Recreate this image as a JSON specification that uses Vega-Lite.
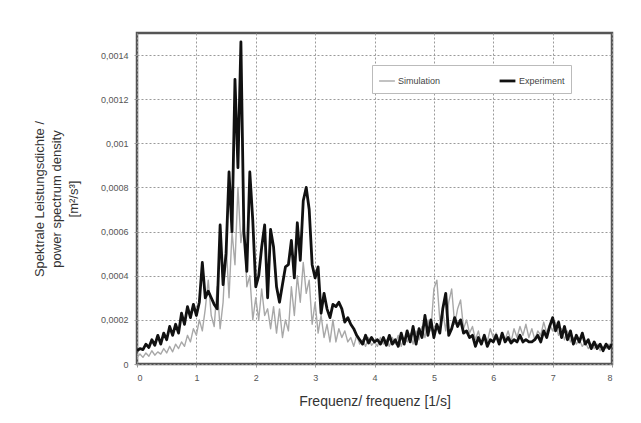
{
  "$schema": "https://vega.github.io/schema/vega-lite/v6.json",
  "width": 475,
  "height": 331,
  "autosize": "none",
  "padding": {"left": 137, "top": 33, "right": 29, "bottom": 59},
  "background": "white",
  "config": {
    "font": "Liberation Sans",
    "view": {"stroke": "#555", "strokeWidth": 2.5},
    "axis": {
      "gridDash": [2, 2], "gridColor": "#9a9a9a", "gridWidth": 1, "gridOpacity": 1,
      "domain": false, "tickColor": "#999", "tickSize": 3,
      "labelFont": "Liberation Sans", "labelFontSize": 9, "labelColor": "#555",
      "titleFont": "Liberation Sans", "titleFontWeight": "normal", "titleColor": "#333"
    }
  },
  "data": {"values": [
    {"f":0.00,"Simulation":0.00003,"Experiment":0.00006},
    {"f":0.05,"Simulation":0.000045,"Experiment":0.00007},
    {"f":0.10,"Simulation":0.00003,"Experiment":0.000065},
    {"f":0.15,"Simulation":0.00005,"Experiment":0.00009},
    {"f":0.20,"Simulation":0.000035,"Experiment":0.000075},
    {"f":0.25,"Simulation":0.00006,"Experiment":0.00011},
    {"f":0.30,"Simulation":0.00004,"Experiment":0.000085},
    {"f":0.35,"Simulation":0.000055,"Experiment":0.00013},
    {"f":0.40,"Simulation":0.000045,"Experiment":0.00009},
    {"f":0.45,"Simulation":0.00007,"Experiment":0.00014},
    {"f":0.50,"Simulation":0.00005,"Experiment":0.00011},
    {"f":0.55,"Simulation":0.00008,"Experiment":0.00017},
    {"f":0.60,"Simulation":0.000055,"Experiment":0.00013},
    {"f":0.65,"Simulation":0.00009,"Experiment":0.00018},
    {"f":0.70,"Simulation":0.00007,"Experiment":0.00014},
    {"f":0.75,"Simulation":0.0001,"Experiment":0.00023},
    {"f":0.80,"Simulation":0.00008,"Experiment":0.00018},
    {"f":0.85,"Simulation":0.00013,"Experiment":0.00026},
    {"f":0.90,"Simulation":0.0001,"Experiment":0.00021},
    {"f":0.95,"Simulation":0.00016,"Experiment":0.00027},
    {"f":1.00,"Simulation":0.00013,"Experiment":0.00022},
    {"f":1.05,"Simulation":0.0002,"Experiment":0.00028},
    {"f":1.10,"Simulation":0.00015,"Experiment":0.00046},
    {"f":1.15,"Simulation":0.00025,"Experiment":0.0003},
    {"f":1.20,"Simulation":0.00038,"Experiment":0.00033},
    {"f":1.25,"Simulation":0.00022,"Experiment":0.0003},
    {"f":1.30,"Simulation":0.00017,"Experiment":0.00027},
    {"f":1.35,"Simulation":0.00035,"Experiment":0.00025},
    {"f":1.40,"Simulation":0.00016,"Experiment":0.00063},
    {"f":1.45,"Simulation":0.00028,"Experiment":0.00036},
    {"f":1.50,"Simulation":0.00055,"Experiment":0.0005},
    {"f":1.55,"Simulation":0.0003,"Experiment":0.00087},
    {"f":1.60,"Simulation":0.0006,"Experiment":0.0006},
    {"f":1.65,"Simulation":0.00045,"Experiment":0.00129},
    {"f":1.70,"Simulation":0.0008,"Experiment":0.00089},
    {"f":1.75,"Simulation":0.00055,"Experiment":0.00146},
    {"f":1.80,"Simulation":0.00065,"Experiment":0.0006},
    {"f":1.85,"Simulation":0.00035,"Experiment":0.00042},
    {"f":1.90,"Simulation":0.0004,"Experiment":0.00087},
    {"f":1.95,"Simulation":0.0002,"Experiment":0.00065},
    {"f":2.00,"Simulation":0.0003,"Experiment":0.00035},
    {"f":2.05,"Simulation":0.0002,"Experiment":0.0004},
    {"f":2.10,"Simulation":0.00034,"Experiment":0.00053},
    {"f":2.15,"Simulation":0.00022,"Experiment":0.00063},
    {"f":2.20,"Simulation":0.00025,"Experiment":0.0003},
    {"f":2.25,"Simulation":0.00016,"Experiment":0.00061},
    {"f":2.30,"Simulation":0.00026,"Experiment":0.00053},
    {"f":2.35,"Simulation":0.00014,"Experiment":0.00035},
    {"f":2.40,"Simulation":0.00025,"Experiment":0.00028},
    {"f":2.45,"Simulation":0.00012,"Experiment":0.00036},
    {"f":2.50,"Simulation":0.0002,"Experiment":0.00044},
    {"f":2.55,"Simulation":0.00015,"Experiment":0.00045},
    {"f":2.60,"Simulation":0.00035,"Experiment":0.00056},
    {"f":2.65,"Simulation":0.00022,"Experiment":0.00039},
    {"f":2.70,"Simulation":0.0004,"Experiment":0.00064},
    {"f":2.75,"Simulation":0.00028,"Experiment":0.00047},
    {"f":2.80,"Simulation":0.00046,"Experiment":0.00074},
    {"f":2.85,"Simulation":0.00032,"Experiment":0.0008},
    {"f":2.90,"Simulation":0.00038,"Experiment":0.0007},
    {"f":2.95,"Simulation":0.00018,"Experiment":0.00045},
    {"f":3.00,"Simulation":0.00028,"Experiment":0.00039},
    {"f":3.05,"Simulation":0.00014,"Experiment":0.00044},
    {"f":3.10,"Simulation":0.00022,"Experiment":0.00023},
    {"f":3.15,"Simulation":0.00012,"Experiment":0.00032},
    {"f":3.20,"Simulation":0.00018,"Experiment":0.00025},
    {"f":3.25,"Simulation":0.0001,"Experiment":0.00021},
    {"f":3.30,"Simulation":0.0002,"Experiment":0.00027},
    {"f":3.35,"Simulation":0.0001,"Experiment":0.00026},
    {"f":3.40,"Simulation":0.00016,"Experiment":0.00028},
    {"f":3.45,"Simulation":0.00012,"Experiment":0.00025},
    {"f":3.50,"Simulation":0.00015,"Experiment":0.00019},
    {"f":3.55,"Simulation":0.0001,"Experiment":0.00021},
    {"f":3.60,"Simulation":0.00012,"Experiment":0.00018},
    {"f":3.65,"Simulation":0.00008,"Experiment":0.00016},
    {"f":3.70,"Simulation":0.00013,"Experiment":0.00013},
    {"f":3.75,"Simulation":0.00009,"Experiment":0.00011},
    {"f":3.80,"Simulation":0.00011,"Experiment":0.00009},
    {"f":3.85,"Simulation":0.00008,"Experiment":0.00013},
    {"f":3.90,"Simulation":0.00012,"Experiment":0.000095},
    {"f":3.95,"Simulation":0.000085,"Experiment":0.00012},
    {"f":4.00,"Simulation":0.0001,"Experiment":0.0001},
    {"f":4.05,"Simulation":0.00008,"Experiment":0.00011},
    {"f":4.10,"Simulation":0.00012,"Experiment":0.00009},
    {"f":4.15,"Simulation":0.00009,"Experiment":0.00012},
    {"f":4.20,"Simulation":0.00011,"Experiment":0.000085},
    {"f":4.25,"Simulation":0.00008,"Experiment":0.00013},
    {"f":4.30,"Simulation":0.00012,"Experiment":0.00009},
    {"f":4.35,"Simulation":0.00009,"Experiment":0.00011},
    {"f":4.40,"Simulation":0.00013,"Experiment":0.00008},
    {"f":4.45,"Simulation":0.00008,"Experiment":0.00014},
    {"f":4.50,"Simulation":0.00012,"Experiment":0.00009},
    {"f":4.55,"Simulation":0.0001,"Experiment":0.00015},
    {"f":4.60,"Simulation":0.00014,"Experiment":0.0001},
    {"f":4.65,"Simulation":0.00009,"Experiment":0.00017},
    {"f":4.70,"Simulation":0.00015,"Experiment":0.00009},
    {"f":4.75,"Simulation":0.00011,"Experiment":0.00016},
    {"f":4.80,"Simulation":0.00017,"Experiment":0.00012},
    {"f":4.85,"Simulation":0.00012,"Experiment":0.00022},
    {"f":4.90,"Simulation":0.0002,"Experiment":0.00013},
    {"f":4.95,"Simulation":0.00015,"Experiment":0.0002},
    {"f":5.00,"Simulation":0.00034,"Experiment":0.00012},
    {"f":5.05,"Simulation":0.00038,"Experiment":0.00018},
    {"f":5.10,"Simulation":0.0002,"Experiment":0.00014},
    {"f":5.15,"Simulation":0.00024,"Experiment":0.00025},
    {"f":5.20,"Simulation":0.00015,"Experiment":0.00032},
    {"f":5.25,"Simulation":0.00028,"Experiment":0.00013},
    {"f":5.30,"Simulation":0.00034,"Experiment":0.00016},
    {"f":5.35,"Simulation":0.00018,"Experiment":0.00021},
    {"f":5.40,"Simulation":0.00025,"Experiment":0.00017},
    {"f":5.45,"Simulation":0.00029,"Experiment":0.0002},
    {"f":5.50,"Simulation":0.00016,"Experiment":0.00014},
    {"f":5.55,"Simulation":0.0002,"Experiment":0.00015},
    {"f":5.60,"Simulation":0.00014,"Experiment":0.00012},
    {"f":5.65,"Simulation":0.00017,"Experiment":0.00013},
    {"f":5.70,"Simulation":0.00011,"Experiment":0.00008},
    {"f":5.75,"Simulation":0.00015,"Experiment":0.00012},
    {"f":5.80,"Simulation":0.00009,"Experiment":0.00009},
    {"f":5.85,"Simulation":0.00013,"Experiment":0.00013},
    {"f":5.90,"Simulation":0.0001,"Experiment":0.00008},
    {"f":5.95,"Simulation":0.00016,"Experiment":0.00011},
    {"f":6.00,"Simulation":0.00012,"Experiment":0.0001},
    {"f":6.05,"Simulation":0.00014,"Experiment":0.00013},
    {"f":6.10,"Simulation":0.0001,"Experiment":0.00009},
    {"f":6.15,"Simulation":0.00013,"Experiment":0.00014},
    {"f":6.20,"Simulation":0.00011,"Experiment":0.0001},
    {"f":6.25,"Simulation":0.00015,"Experiment":0.00012},
    {"f":6.30,"Simulation":0.0001,"Experiment":0.000095},
    {"f":6.35,"Simulation":0.00016,"Experiment":0.00011},
    {"f":6.40,"Simulation":0.00012,"Experiment":0.0001},
    {"f":6.45,"Simulation":0.00017,"Experiment":0.00013},
    {"f":6.50,"Simulation":0.00013,"Experiment":0.0001},
    {"f":6.55,"Simulation":0.00018,"Experiment":0.00011},
    {"f":6.60,"Simulation":0.00012,"Experiment":0.0001},
    {"f":6.65,"Simulation":0.00016,"Experiment":0.0001},
    {"f":6.70,"Simulation":0.00011,"Experiment":0.00011},
    {"f":6.75,"Simulation":0.00015,"Experiment":0.00013},
    {"f":6.80,"Simulation":0.00013,"Experiment":0.0001},
    {"f":6.85,"Simulation":0.00019,"Experiment":0.00015},
    {"f":6.90,"Simulation":0.00014,"Experiment":0.00012},
    {"f":6.95,"Simulation":0.00018,"Experiment":0.00017},
    {"f":7.00,"Simulation":0.00015,"Experiment":0.00021},
    {"f":7.05,"Simulation":0.00019,"Experiment":0.00015},
    {"f":7.10,"Simulation":0.00013,"Experiment":0.00019},
    {"f":7.15,"Simulation":0.00016,"Experiment":0.00012},
    {"f":7.20,"Simulation":0.00011,"Experiment":0.00017},
    {"f":7.25,"Simulation":0.00015,"Experiment":0.00011},
    {"f":7.30,"Simulation":0.0001,"Experiment":0.00015},
    {"f":7.35,"Simulation":0.00012,"Experiment":0.00009},
    {"f":7.40,"Simulation":0.00009,"Experiment":0.00013},
    {"f":7.45,"Simulation":0.00011,"Experiment":0.0001},
    {"f":7.50,"Simulation":0.00008,"Experiment":0.00014},
    {"f":7.55,"Simulation":0.0001,"Experiment":0.00009},
    {"f":7.60,"Simulation":0.00007,"Experiment":0.00011},
    {"f":7.65,"Simulation":0.00009,"Experiment":0.00007},
    {"f":7.70,"Simulation":0.00007,"Experiment":0.0001},
    {"f":7.75,"Simulation":0.00009,"Experiment":0.00007},
    {"f":7.80,"Simulation":0.00006,"Experiment":0.00009},
    {"f":7.85,"Simulation":0.00008,"Experiment":0.00006},
    {"f":7.90,"Simulation":0.00007,"Experiment":0.00009},
    {"f":7.95,"Simulation":0.00009,"Experiment":0.00007},
    {"f":8.00,"Simulation":0.00008,"Experiment":0.00009}
  ]},
  "transform": [{"fold": ["Simulation", "Experiment"], "as": ["series", "value"]}],
  "mark": {"type": "line", "strokeJoin": "round", "clip": true},
  "encoding": {
    "x": {
      "field": "f", "type": "quantitative",
      "scale": {"domain": [0, 8], "nice": false, "zero": false},
      "axis": {"values": [0,1,2,3,4,5,6,7,8], "title": "Frequenz/ frequenz [1/s]",
               "titleFontSize": 14, "titlePadding": 12, "labelPadding": 6}
    },
    "y": {
      "field": "value", "type": "quantitative",
      "scale": {"domain": [0, 0.0015], "nice": false},
      "axis": {
        "values": [0, 0.0002, 0.0004, 0.0006, 0.0008, 0.001, 0.0012, 0.0014],
        "labelExpr": "replace(toString(datum.value), '.', ',')",
        "labelPadding": 6,
        "title": ["Spektrale Leistungsdichte /", "power spectrum density", "[m²/s³]"],
        "titleFontSize": 13, "titleLineHeight": 17, "titlePadding": 20
      }
    },
    "color": {
      "field": "series", "type": "nominal",
      "scale": {"domain": ["Simulation", "Experiment"], "range": ["#a8a8a8", "#111111"]},
      "legend": {
        "title": null, "orient": "none", "legendX": 235, "legendY": 32,
        "direction": "horizontal", "symbolType": "stroke", "symbolSize": 250,
        "labelFontSize": 9, "labelColor": "#444", "fillColor": "white",
        "strokeColor": "#bbb", "padding": 6, "columnPadding": 52, "labelOffset": 2,
        "rowPadding": 0
      }
    },
    "strokeWidth": {
      "field": "series", "type": "nominal",
      "scale": {"domain": ["Simulation", "Experiment"], "range": [1.4, 2.8]},
      "legend": null
    },
    "order": {"field": "f", "type": "quantitative"}
  }
}
